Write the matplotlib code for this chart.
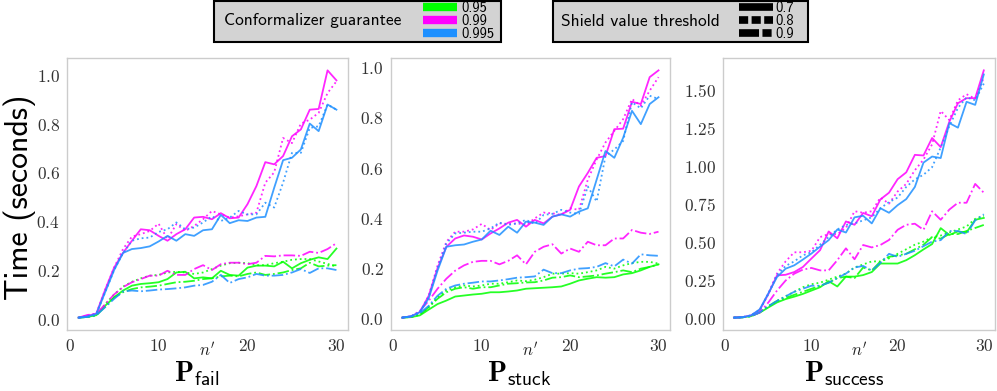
import numpy as np
import matplotlib
matplotlib.use("Agg")
import matplotlib.pyplot as plt
from matplotlib.lines import Line2D
from matplotlib.patches import Rectangle
from matplotlib.ticker import FuncFormatter, MultipleLocator

plt.rcParams['mathtext.fontset'] = 'cm'

# n' values
n_prime = list(range(1, 31))

guarantees = ['0.95', '0.99', '0.995']
thresholds = ['0.7', '0.8', '0.9']
colors = ['#00ff00', '#ff00ff', '#1e90ff']
styles = ['-', ':', '-.']

# P_fail
fail_g95_07 = [0.005, 0.008, 0.015, 0.054, 0.088, 0.116, 0.136, 0.143, 0.146, 0.15, 0.163, 0.19, 0.193, 0.166, 0.17,
               0.166, 0.197, 0.18, 0.177, 0.21, 0.218, 0.218, 0.215, 0.234, 0.207, 0.228, 0.242, 0.252, 0.245, 0.288]
fail_g95_08 = [0.005, 0.008, 0.015, 0.06, 0.1, 0.132, 0.152, 0.166, 0.177, 0.18, 0.19, 0.193, 0.19, 0.184, 0.19,
               0.204, 0.218, 0.228, 0.23, 0.228, 0.22, 0.22, 0.228, 0.234, 0.242, 0.245, 0.245, 0.235, 0.225, 0.215]
fail_g95_09 = [0.005, 0.008, 0.015, 0.05, 0.088, 0.109, 0.122, 0.129, 0.132, 0.136, 0.143, 0.15, 0.152, 0.156, 0.163,
               0.166, 0.174, 0.177, 0.174, 0.184, 0.19, 0.18, 0.184, 0.19, 0.2, 0.207, 0.23, 0.215, 0.218, 0.22]
fail_g99_07 = [0.005, 0.012, 0.022, 0.12, 0.21, 0.27, 0.32, 0.367, 0.363, 0.34, 0.32, 0.347, 0.367, 0.415, 0.418,
               0.408, 0.433, 0.412, 0.415, 0.47, 0.544, 0.642, 0.633, 0.667, 0.748, 0.776, 0.857, 0.86, 1.018, 0.977]
fail_g99_08 = [0.005, 0.012, 0.022, 0.12, 0.21, 0.286, 0.337, 0.347, 0.36, 0.39, 0.327, 0.388, 0.36, 0.381, 0.408,
               0.442, 0.428, 0.415, 0.42, 0.428, 0.435, 0.558, 0.6, 0.741, 0.72, 0.8, 0.816, 0.844, 0.925, 0.973]
fail_g99_09 = [0.005, 0.016, 0.02, 0.06, 0.1, 0.13, 0.15, 0.163, 0.177, 0.177, 0.197, 0.18, 0.18, 0.204, 0.22,
               0.2, 0.224, 0.23, 0.23, 0.224, 0.23, 0.258, 0.256, 0.26, 0.26, 0.258, 0.275, 0.27, 0.286, 0.31]
fail_g995_07 = [0.005, 0.01, 0.02, 0.11, 0.2, 0.27, 0.286, 0.29, 0.297, 0.317, 0.34, 0.32, 0.347, 0.34, 0.363,
                0.367, 0.426, 0.392, 0.404, 0.401, 0.415, 0.418, 0.537, 0.65, 0.66, 0.694, 0.8, 0.769, 0.878, 0.857]
fail_g995_08 = [0.005, 0.01, 0.02, 0.11, 0.2, 0.27, 0.32, 0.33, 0.333, 0.356, 0.367, 0.395, 0.367, 0.374, 0.395,
                0.42, 0.401, 0.415, 0.442, 0.428, 0.428, 0.476, 0.456, 0.558, 0.68, 0.68, 0.782, 0.789, 0.878, 0.857]
fail_g995_09 = [0.005, 0.008, 0.015, 0.048, 0.082, 0.112, 0.116, 0.113, 0.116, 0.12, 0.122, 0.125, 0.129, 0.136, 0.139,
                0.152, 0.18, 0.147, 0.163, 0.17, 0.184, 0.177, 0.177, 0.18, 0.19, 0.204, 0.188, 0.207, 0.207, 0.2]

# P_stuck
stuck_g95_07 = [0.003, 0.005, 0.012, 0.035, 0.057, 0.071, 0.087, 0.091, 0.095, 0.098, 0.104, 0.104, 0.107, 0.111, 0.118,
                0.12, 0.122, 0.124, 0.127, 0.138, 0.151, 0.158, 0.164, 0.162, 0.164, 0.175, 0.18, 0.191, 0.205, 0.215]
stuck_g95_08 = [0.003, 0.006, 0.015, 0.045, 0.084, 0.111, 0.124, 0.131, 0.127, 0.131, 0.138, 0.138, 0.144, 0.151, 0.148,
                0.154, 0.164, 0.178, 0.178, 0.18, 0.178, 0.184, 0.191, 0.205, 0.198, 0.211, 0.22, 0.225, 0.225, 0.218]
stuck_g95_09 = [0.003, 0.006, 0.015, 0.045, 0.078, 0.104, 0.118, 0.124, 0.118, 0.124, 0.124, 0.131, 0.138, 0.14, 0.143,
                0.144, 0.151, 0.162, 0.164, 0.171, 0.164, 0.167, 0.171, 0.178, 0.184, 0.191, 0.184, 0.198, 0.205, 0.215]
stuck_g99_07 = [0.003, 0.008, 0.025, 0.09, 0.2, 0.285, 0.318, 0.33, 0.325, 0.314, 0.338, 0.358, 0.381, 0.392, 0.365,
                0.392, 0.378, 0.405, 0.414, 0.432, 0.525, 0.579, 0.639, 0.646, 0.753, 0.755, 0.862, 0.853, 0.96, 0.987]
stuck_g99_08 = [0.003, 0.008, 0.025, 0.09, 0.21, 0.305, 0.345, 0.345, 0.354, 0.376, 0.352, 0.378, 0.376, 0.378, 0.372,
                0.398, 0.421, 0.418, 0.412, 0.438, 0.432, 0.552, 0.632, 0.7, 0.746, 0.793, 0.873, 0.846, 0.906, 0.96]
stuck_g99_09 = [0.003, 0.008, 0.03, 0.07, 0.118, 0.158, 0.19, 0.211, 0.225, 0.229, 0.229, 0.215, 0.229, 0.251, 0.215,
                0.265, 0.285, 0.295, 0.258, 0.278, 0.265, 0.305, 0.291, 0.291, 0.318, 0.318, 0.352, 0.341, 0.336, 0.345]
stuck_g995_07 = [0.003, 0.008, 0.025, 0.08, 0.19, 0.285, 0.291, 0.294, 0.305, 0.314, 0.349, 0.332, 0.365, 0.341, 0.385,
                 0.381, 0.372, 0.405, 0.414, 0.405, 0.425, 0.438, 0.552, 0.666, 0.639, 0.719, 0.826, 0.773, 0.853, 0.88]
stuck_g995_08 = [0.003, 0.008, 0.025, 0.085, 0.2, 0.298, 0.338, 0.341, 0.345, 0.345, 0.358, 0.381, 0.372, 0.378, 0.392,
                 0.376, 0.412, 0.416, 0.432, 0.421, 0.416, 0.525, 0.465, 0.646, 0.672, 0.706, 0.86, 0.836, 0.886, 0.873]
stuck_g995_09 = [0.003, 0.008, 0.02, 0.05, 0.09, 0.118, 0.131, 0.138, 0.142, 0.147, 0.147, 0.151, 0.156, 0.162, 0.164,
                 0.167, 0.194, 0.18, 0.18, 0.191, 0.198, 0.2, 0.205, 0.22, 0.207, 0.234, 0.218, 0.255, 0.251, 0.249]

# P_success
succ_g95_07 = [0.0, 0.002, 0.01, 0.033, 0.067, 0.1, 0.122, 0.138, 0.156, 0.178, 0.2, 0.24, 0.205, 0.27, 0.27,
               0.28, 0.3, 0.356, 0.356, 0.356, 0.378, 0.411, 0.449, 0.484, 0.589, 0.544, 0.567, 0.56, 0.644, 0.656]
succ_g95_08 = [0.0, 0.002, 0.01, 0.035, 0.075, 0.11, 0.14, 0.17, 0.2, 0.22, 0.23, 0.25, 0.27, 0.29, 0.33,
               0.35, 0.37, 0.37, 0.39, 0.42, 0.45, 0.48, 0.5, 0.53, 0.54, 0.56, 0.58, 0.6, 0.65, 0.67]
succ_g95_09 = [0.0, 0.002, 0.01, 0.035, 0.075, 0.11, 0.13, 0.15, 0.17, 0.19, 0.21, 0.23, 0.26, 0.27, 0.26,
               0.33, 0.31, 0.37, 0.4, 0.41, 0.42, 0.45, 0.48, 0.53, 0.52, 0.55, 0.55, 0.57, 0.59, 0.61]
succ_g99_07 = [0.0, 0.003, 0.015, 0.05, 0.155, 0.278, 0.282, 0.3, 0.333, 0.389, 0.444, 0.567, 0.522, 0.633, 0.611,
               0.689, 0.667, 0.778, 0.822, 0.911, 0.956, 1.071, 1.067, 1.182, 1.122, 1.289, 1.411, 1.444, 1.444, 1.627]
succ_g99_08 = [0.0, 0.003, 0.015, 0.05, 0.16, 0.29, 0.37, 0.43, 0.43, 0.44, 0.53, 0.55, 0.55, 0.59, 0.7,
               0.69, 0.7, 0.79, 0.75, 0.83, 0.88, 0.97, 1.04, 1.14, 1.36, 1.3, 1.43, 1.47, 1.44, 1.58]
succ_g99_09 = [0.0, 0.003, 0.012, 0.033, 0.1, 0.178, 0.244, 0.289, 0.316, 0.327, 0.311, 0.311, 0.378, 0.456, 0.384,
               0.478, 0.462, 0.478, 0.511, 0.578, 0.611, 0.618, 0.578, 0.7, 0.644, 0.711, 0.756, 0.756, 0.88, 0.822]
succ_g995_07 = [0.0, 0.003, 0.015, 0.055, 0.16, 0.267, 0.322, 0.344, 0.382, 0.422, 0.467, 0.51, 0.58, 0.56, 0.66,
                0.67, 0.62, 0.72, 0.69, 0.74, 0.78, 0.86, 1.02, 1.06, 1.05, 1.28, 1.25, 1.42, 1.4, 1.6]
succ_g995_08 = [0.0, 0.003, 0.015, 0.05, 0.155, 0.28, 0.34, 0.37, 0.41, 0.43, 0.48, 0.53, 0.58, 0.61, 0.62,
                0.64, 0.66, 0.72, 0.76, 0.79, 0.86, 0.91, 0.94, 0.99, 1.12, 1.26, 1.38, 1.45, 1.43, 1.54]
succ_g995_09 = [0.0, 0.002, 0.01, 0.035, 0.075, 0.11, 0.14, 0.17, 0.19, 0.21, 0.21, 0.23, 0.26, 0.29, 0.33,
                0.34, 0.31, 0.36, 0.42, 0.4, 0.42, 0.44, 0.47, 0.5, 0.51, 0.57, 0.57, 0.55, 0.64, 0.68]

panels = [
    (r'$\mathbf{P}_{\mathsf{fail}}$',
     [[fail_g95_07, fail_g95_08, fail_g95_09],
      [fail_g99_07, fail_g99_08, fail_g99_09],
      [fail_g995_07, fail_g995_08, fail_g995_09]], 0.2, 1),
    (r'$\mathbf{P}_{\mathsf{stuck}}$',
     [[stuck_g95_07, stuck_g95_08, stuck_g95_09],
      [stuck_g99_07, stuck_g99_08, stuck_g99_09],
      [stuck_g995_07, stuck_g995_08, stuck_g995_09]], 0.2, 1),
    (r'$\mathbf{P}_{\mathsf{success}}$',
     [[succ_g95_07, succ_g95_08, succ_g95_09],
      [succ_g99_07, succ_g99_08, succ_g99_09],
      [succ_g995_07, succ_g995_08, succ_g995_09]], 0.25, 2),
]

W, H = 997, 391
fig = plt.figure(figsize=(W / 100, H / 100), dpi=100)

lefts = [67, 390.7, 722.7]
rights = [348, 670, 995]
title_x = [197, 519, 844]
top, bottom = 58, 330

for k, (title, series, step, dec) in enumerate(panels):
    ax = fig.add_axes([lefts[k] / W, (H - bottom) / H, (rights[k] - lefts[k]) / W, (bottom - top) / H])
    for ci in range(3):
        for si in range(3):
            ax.plot(n_prime, series[ci][si], color=colors[ci], linestyle=styles[si], lw=1.3, alpha=0.85)
    ax.set_xlim(-0.3, 31.3)
    ax.xaxis.set_major_locator(MultipleLocator(10))
    ax.yaxis.set_major_locator(MultipleLocator(step))
    ax.xaxis.set_major_formatter(FuncFormatter(lambda v, p: '$%d$' % v))
    ax.yaxis.set_major_formatter(FuncFormatter(lambda v, p, d=dec: '$%.*f$' % (d, v)))
    ax.tick_params(length=0, labelsize=12.5, colors='#333333', pad=5)
    for s in ax.spines.values():
        s.set_color('#cccccc')
        s.set_linewidth(1.0)
    cx = (lefts[k] + rights[k]) / 2 / W
    fig.text(cx, (H - 351) / H, r"$n'$", ha='center', va='center', fontsize=12, color='#222222')
    fig.text(title_x[k] / W, (H - 381) / H, title, ha='center', va='baseline', fontsize=20)

fig.text(20 / W, (H - 197) / H, 'Time (seconds)', family='cmss10', rotation=90,
         ha='center', va='center', fontsize=23)

# legend boxes
box_kw = dict(facecolor='#d3d3d3', edgecolor='black', lw=1.5, transform=fig.transFigure, zorder=0)
fig.patches.append(Rectangle((214 / W, (H - 42) / H), 287 / W, 41 / H, **box_kw))
fig.patches.append(Rectangle((553 / W, (H - 42) / H), 255 / W, 41 / H, **box_kw))
fig.text(224 / W, (H - 21) / H, 'Conformalizer guarantee', family='cmss10', ha='left', va='center', fontsize=12.5)
fig.text(561 / W, (H - 21) / H, 'Shield value threshold', family='cmss10', ha='left', va='center', fontsize=12.5)

leg_font = {'family': 'cmss10', 'size': 10.5}
col_handles = [Line2D([], [], color=c, lw=6, solid_capstyle='butt') for c in colors]
leg1 = fig.legend(col_handles, guarantees, prop=leg_font,
                  loc='center left', bbox_to_anchor=(423 / W, (H - 21) / H), frameon=False,
                  handlelength=2.36, handletextpad=0.3, labelspacing=-0.05,
                  borderpad=0, borderaxespad=0)

sty_handles = [Line2D([], [], color='black', lw=5.5, solid_capstyle='butt', dash_capstyle='butt'),
               Line2D([], [], color='black', lw=5.5, dashes=(1.2, 0.45), dash_capstyle='butt'),
               Line2D([], [], color='black', lw=5.5, dashes=(2.62, 0.45, 1.2, 0.45), dash_capstyle='butt')]
leg2 = fig.legend(sty_handles, thresholds, prop=leg_font,
                  loc='center left', bbox_to_anchor=(739 / W, (H - 21) / H), frameon=False,
                  handlelength=2.36, handletextpad=0.15, labelspacing=-0.05,
                  borderpad=0, borderaxespad=0)

fig.savefig('out.png', dpi=100)
